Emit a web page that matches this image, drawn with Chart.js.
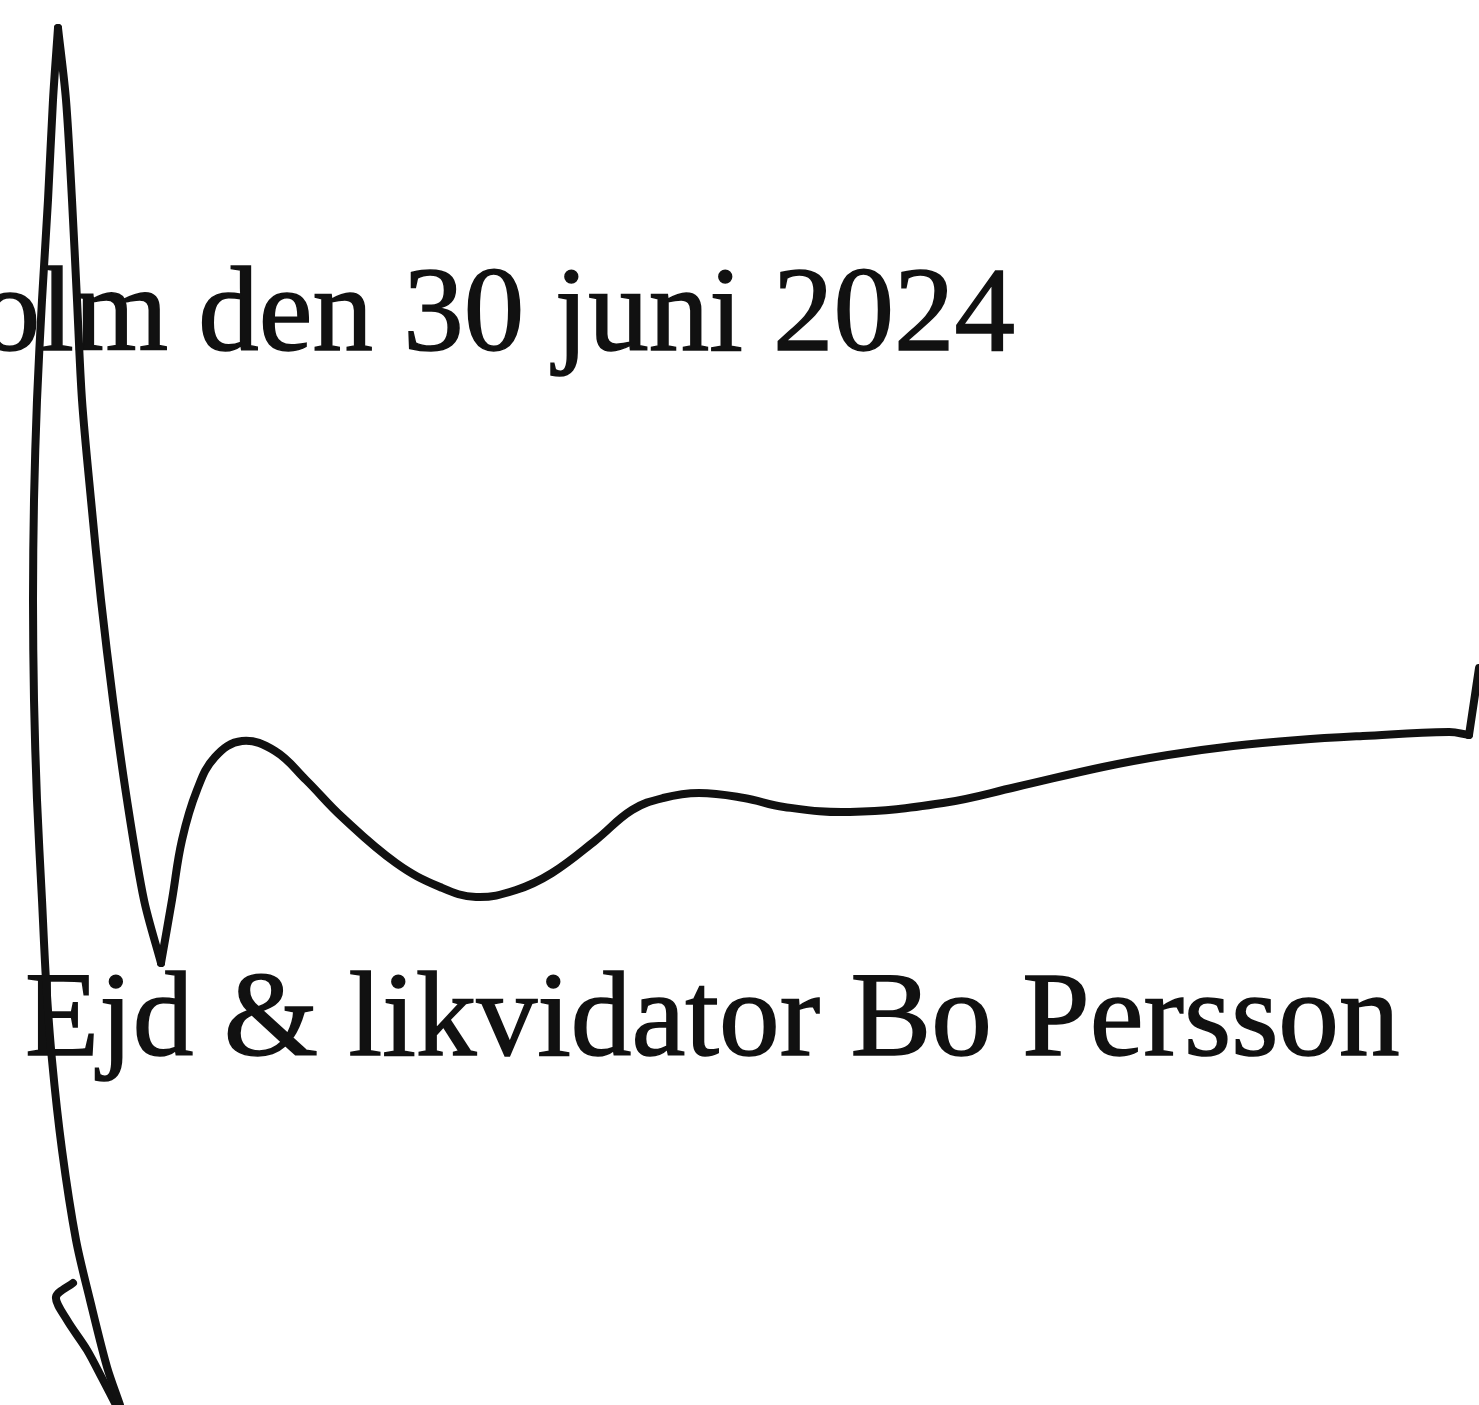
<!DOCTYPE html>
<html>
<head>
<meta charset="utf-8">
<title>Signatur</title>
<script src="https://cdn.jsdelivr.net/npm/chart.js@4.4.1/dist/chart.umd.min.js"></script>
<style>
  html, body { margin: 0; padding: 0; background: #fff; }
  #wrap { width: 1479px; height: 1405px; }
</style>
</head>
<body>
<div id="wrap"><canvas id="sig" width="1479" height="1405"></canvas></div>
<script>
const textLines = ["Stockholm den 30 juni 2024", "Ejd & likvidator Bo Persson"];

// left upstroke: bottom -> peak
const upX = [120, 107, 90, 76, 62, 52, 46, 42, 37, 34, 33, 34, 37, 42, 48, 53, 58];
const upY = [1405, 1367, 1300, 1240, 1150, 1060, 980, 900, 800, 700, 600, 500, 400, 300, 200, 100, 28];

// right downstroke: peak -> V
const downX = [58, 66, 72, 77, 82, 91, 101, 113, 127, 144, 161];
const downY = [28, 100, 200, 300, 400, 500, 600, 700, 800, 900, 963];

// wave: V -> right end
const waveX = [161, 172, 182, 197, 215, 242, 275, 306, 342, 396, 440, 476, 516, 552, 596, 632, 663, 699, 744, 784, 850, 943, 1016, 1103, 1168, 1233, 1298, 1363, 1449, 1469];
const waveY = [963, 900, 840, 790, 757, 741, 751, 780, 817, 863, 887, 897, 890, 873, 840, 810, 798, 793, 798, 807, 812, 803, 787, 767, 755, 746, 740, 736, 732, 735];

// final flick upward
const flickX = [1469, 1479];
const flickY = [735, 668];

// little hook at the bottom
const hookX = [73, 56, 67, 87, 103, 116];
const hookY = [1283, 1297, 1320, 1350, 1380, 1405];

const INK = "#111";
const FONT = '"Liberation Serif", "Times New Roman", serif';

function pts(xs, ys) {
  return xs.map((x, i) => ({ x: x, y: ys[i] }));
}

function stroke(xs, ys, tension) {
  return {
    data: pts(xs, ys),
    showLine: true,
    borderColor: INK,
    borderWidth: 8,
    borderCapStyle: "round",
    borderJoinStyle: "round",
    pointRadius: 0,
    tension: tension,
    fill: false
  };
}

// ---------- text drawn as real text ----------
const textPlugin = {
  id: "sigText",
  beforeDatasetsDraw(chart) {
    const ctx = chart.ctx;
    ctx.save();
    ctx.fillStyle = INK;
    ctx.strokeStyle = INK;
    ctx.lineWidth = 1.5;
    ctx.textBaseline = "alphabetic";

    // line 1: right-aligned, start runs off the left edge
    ctx.font = "121px " + FONT;
    ctx.textAlign = "right";
    ctx.fillText(textLines[0], 1015, 350);
    ctx.strokeText(textLines[0], 1015, 350);

    // line 2: fitted between left and right edges of the scan
    ctx.textAlign = "left";
    let size = 121;
    ctx.font = size + "px " + FONT;
    const w = ctx.measureText(textLines[1]).width;
    size = size * 1375 / w;
    ctx.font = size.toFixed(1) + "px " + FONT;
    ctx.fillText(textLines[1], 25, 1055);
    ctx.strokeText(textLines[1], 25, 1055);
    ctx.restore();
  }
};

new Chart(document.getElementById("sig").getContext("2d"), {
  type: "scatter",
  data: {
    datasets: [
      stroke(upX, upY, 0.3),
      stroke(downX, downY, 0.3),
      stroke(waveX, waveY, 0.4),
      stroke(flickX, flickY, 0),
      stroke(hookX, hookY, 0.3)
    ]
  },
  options: {
    responsive: false,
    animation: false,
    devicePixelRatio: 1,
    layout: { padding: 0 },
    plugins: { legend: { display: false }, tooltip: { enabled: false } },
    scales: {
      x: { type: "linear", display: false, min: 0, max: 1479 },
      y: { type: "linear", display: false, min: 0, max: 1405, reverse: true }
    }
  },
  plugins: [textPlugin]
});
</script>
</body>
</html>
